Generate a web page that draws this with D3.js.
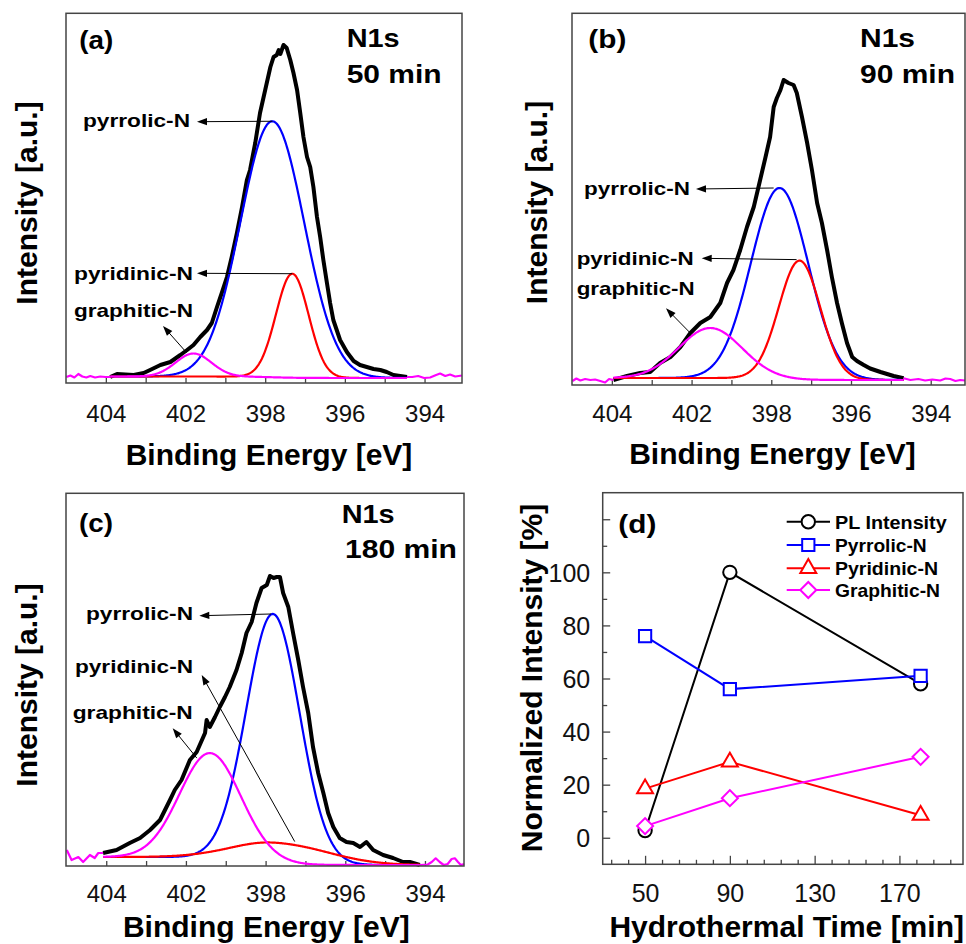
<!DOCTYPE html>
<html><head><meta charset="utf-8">
<script src="https://cdn.jsdelivr.net/npm/d3@7"></script>
<style>
html,body{margin:0;padding:0;background:#fff;}
svg{display:block;}
</style></head><body>
<svg id="chart" width="966" height="944"></svg>
<script>
// ================= DATA =================
// XPS axis: tick positions and the labels printed on them (as in the original figure)
const xTickValues = [402, 400, 398, 396, 394];
const xTickLabels = ["404", "402", "398", "396", "394"];
const xMinorTicks = [402, 401, 400, 399, 398, 397, 396, 395, 394];

const componentNames = ["pyrrolic-N", "pyridinic-N", "graphitic-N"];
const panelTags = ["(a)", "(b)", "(c)", "(d)"];
const coreLevel = "N1s";
const timeLabels = ["50 min", "90 min", "180 min"];
const xpsXTitle = "Binding Energy [eV]";
const xpsYTitle = "Intensity [a.u.]";

// ---- panel (a) 50 min : measured spectrum [eV, counts] ----
const spectrumA = [[402.99,1],[402.89,2.5],[402.79,0.5],[402.69,4],[402.59,1.5],[402.49,0.5],[402.39,2],[402.27,0.5],[402.14,1.5],[402.01,1],
 [401.89,1],[401.72,4],[401.30,3],[401.05,5],[400.89,8],[400.63,13],[400.38,16],[400.13,23],[399.96,28],[399.80,33],[399.63,41],[399.46,48],[399.34,55],[399.21,71],[399.09,85],[398.96,101],[398.84,121],[398.71,145],[398.58,171],[398.46,198],[398.38,208],[398.25,235],[398.13,265],[398.00,288],[397.87,311],[397.79,321],[397.71,323],[397.66,328],[397.62,324],[397.54,333],[397.46,330],[397.37,318],[397.29,305],[397.20,288],[397.12,265],[397.04,241],[396.95,221],[396.87,211],[396.79,191],[396.70,161],[396.62,141],[396.54,118],[396.45,95],[396.37,75],[396.29,58],[396.12,38],[395.95,26],[395.78,17],[395.62,13],[395.45,11],[395.28,9],[395.11,8],[394.95,6],[394.78,3],[394.44,1],
 [394.31,1],[394.16,2],[394.01,0],[393.86,0.5],[393.71,3],[393.61,4.5],[393.48,2],[393.36,3.5],[393.23,1.5],[393.06,2.5]];
const fitRangeA = [394.44, 401.89];
const peakCentersA = [397.82, 397.32, 399.80];
const peakHeightsA = [256, 104, 23];
const peakSigmasA = [0.80, 0.41, 0.45];
const bgStepA = 1.5;

// ---- panel (b) 90 min ----
const spectrumB = [[402.99,-1],[402.89,1.5],[402.79,-0.5],[402.67,1],[402.54,0],[402.42,0.5],[402.29,-1],[402.17,-2.5],[402.07,1],
 [401.96,0],[401.62,4],[401.29,7],[401.04,8],[400.79,17],[400.53,23],[400.28,33],[400.03,47],[399.78,57],[399.53,63],[399.28,77],[399.11,97],[398.95,110],[398.78,130],[398.61,153],[398.44,173],[398.28,200],[398.15,222],[398.03,243],[397.94,273],[397.86,282],[397.77,290],[397.69,300],[397.57,297],[397.44,295],[397.36,287],[397.23,263],[397.10,237],[396.98,210],[396.85,177],[396.73,157],[396.60,130],[396.48,103],[396.35,77],[396.23,57],[396.10,37],[395.97,23],[395.85,19],[395.68,15],[395.52,11.5],[395.26,8],[394.93,4],[394.68,1.7],
 [394.51,0],[394.31,1],[394.14,-0.5],[393.96,0.5],[393.76,-0.5],[393.63,1.5],[393.51,1],[393.38,-1],[393.26,0],[393.14,-0.5]];
const fitRangeB = [394.68, 401.96];
const peakCentersB = [397.79, 397.29, 399.53];
const peakHeightsB = [191, 119, 50];
const peakSigmasB = [0.72, 0.52, 0.79];
const bgStepB = 2;

// ---- panel (c) 180 min ----
const spectrumC = [[402.99,15],[402.87,5],[402.70,8],[402.58,3],[402.41,10],[402.29,7],[402.20,12],
 [402.08,12],[401.74,15],[401.41,22],[401.15,27],[400.90,35],[400.65,45],[400.40,65],[400.28,75],[400.11,85],[399.90,105],[399.73,113],[399.52,132],[399.48,145],[399.40,138],[399.27,148],[399.15,158],[399.02,168],[398.90,178],[398.73,195],[398.60,212],[398.48,232],[398.35,243],[398.23,262],[398.10,277],[397.97,280],[397.89,289],[397.80,287],[397.72,288],[397.64,288],[397.56,272],[397.43,258],[397.31,232],[397.18,205],[397.06,178],[396.93,152],[396.81,118],[396.68,92],[396.55,72],[396.43,52],[396.30,38],[396.14,27],[395.97,23],[395.80,22],[395.63,18],[395.47,23],[395.30,15],[395.05,10],[394.80,7],[394.55,3],[394.38,3],[394.13,0],
 [393.93,0.5],[393.83,3],[393.73,6.7],[393.63,3],[393.53,0],[393.43,1],[393.33,6],[393.25,6.7],[393.17,3],[393.10,0],[393.02,1]];
const fitRangeC = [394.13, 402.08];
const peakCentersC = [397.81, 397.52, 399.40];
const peakHeightsC = [247, 19, 104];
const peakSigmasC = [0.67, 1.17, 0.76];
const bgStepC = 8;

// ---- panel (d) ----
const times = [50, 90, 180];
const plIntensity = [2.7, 100, 58];
const pyrrolicN = [76, 56, 61];
const pyridinicN = [18.5, 28.6, 8.5];
const graphiticN = [4.4, 14.9, 30.5];
const seriesNames = ["PL Intensity", "Pyrrolic-N", "Pyridinic-N", "Graphitic-N"];
const dYTickLabels = [0, 20, 40, 60, 80, 100];
const dXTickLabels = [50, 90, 130, 170];
const dXTitle = "Hydrothermal Time [min]";
const dYTitle = "Normalized Intensity [%]";

// ================= DRAWING =================
const FONT = '"Liberation Sans", Arial, Helvetica, sans-serif';
const COLORS = {black:"#000000", blue:"#0000ff", red:"#ff0000", magenta:"#ff00ff"};
const compColors = [COLORS.blue, COLORS.red, COLORS.magenta];
const FRAME = "#444";
const svg = d3.select("#chart");

function gauss(u, c, h, s) { return h * Math.exp(-0.5 * ((u - c) / s) ** 2); }

function boldText(g, str, x, y, size, width) {
  const t = g.append("text").attr("x", x).attr("y", y)
    .attr("font-family", FONT).attr("font-weight", "bold").attr("font-size", size)
    .attr("fill", "#000").text(str);
  if (width) t.attr("textLength", width).attr("lengthAdjust", "spacingAndGlyphs");
  return t;
}

function arrow(g, tail, tip) {
  const dx = tip[0] - tail[0], dy = tip[1] - tail[1];
  const len = Math.hypot(dx, dy), ux = dx / len, uy = dy / len;
  const L = 10, W = 3.6;
  g.append("line").attr("x1", tail[0]).attr("y1", tail[1])
    .attr("x2", tip[0] - ux * (L - 1)).attr("y2", tip[1] - uy * (L - 1))
    .attr("stroke", "#000").attr("stroke-width", 1);
  const bx = tip[0] - ux * L, by = tip[1] - uy * L;
  g.append("path").attr("d", `M${tip[0]},${tip[1]}L${bx - uy * W},${by + ux * W}L${bx + uy * W},${by - ux * W}Z`)
    .attr("fill", "#000");
}

function spectrumPanel(p) {
  const g = svg.append("g");
  const x = d3.scaleLinear().domain(p.xDomain).range([p.left, p.right]);
  const y = d3.scaleLinear().domain(p.yDomain).range([p.bottom, p.top]);

  // ticks (inside, all same length)
  const ga = g.append("g").attr("transform", `translate(0,${p.bottom})`)
    .call(d3.axisBottom(x).tickValues(xMinorTicks).tickSize(-5).tickFormat(""));
  ga.select(".domain").remove();
  ga.selectAll("line").attr("stroke", FRAME).attr("stroke-width", 1.3);
  // tick labels
  const gl = g.append("g").attr("transform", `translate(0,${p.bottom})`)
    .call(d3.axisBottom(x).tickValues(xTickValues).tickFormat((d, i) => xTickLabels[i]).tickSize(0));
  gl.select(".domain").remove();
  gl.attr("font-family", FONT).attr("font-size", 24);
  gl.selectAll("text").attr("y", p.tickLabelY).attr("dy", null).attr("fill", "#111");

  // curves
  const line = d3.line().x(d => x(d[0])).y(d => y(d[1])).curve(d3.curveLinear);
  const [lo, hi] = p.fitRange;
  const inside = p.spectrum.filter(d => d[0] >= lo && d[0] <= hi);
  const leftEdge = p.spectrum.filter(d => d[0] >= hi);
  const rightEdge = p.spectrum.filter(d => d[0] <= lo);
  const bg = u => p.bgStep / (1 + Math.exp(-(u - p.centers[0]) / 0.35));
  const us = d3.range(hi, lo, -0.02).concat([lo]);

  g.append("path").attr("d", line(inside)).attr("fill", "none")
    .attr("stroke", COLORS.black).attr("stroke-width", 4).attr("stroke-linejoin", "round");

  const peakPts = [];
  [0, 1, 2].forEach(i => {
    const pts = us.map(u => [u, bg(u) + gauss(u, p.centers[i], p.heights[i], p.sigmas[i])]);
    g.append("path").attr("d", line(pts)).attr("fill", "none")
      .attr("stroke", compColors[i]).attr("stroke-width", 2.2);
    peakPts.push([x(p.centers[i]), y(bg(p.centers[i]) + p.heights[i])]);
  });
  [leftEdge, rightEdge].forEach(e => {
    g.append("path").attr("d", line(e)).attr("fill", "none")
      .attr("stroke", COLORS.magenta).attr("stroke-width", 2.2).attr("stroke-linejoin", "round");
  });

  // frame
  g.append("rect").attr("x", p.left).attr("y", p.top)
    .attr("width", p.right - p.left).attr("height", p.bottom - p.top)
    .attr("fill", "none").attr("stroke", FRAME).attr("stroke-width", 1.5);

  // annotations
  p.annot.forEach((a, i) => {
    boldText(g, componentNames[i], a.tx, a.by, 19, a.w);
    arrow(g, [peakPts[i][0] + a.off[0], peakPts[i][1] + a.off[1]], a.tip);
  });

  // panel texts
  boldText(g, p.tag, p.tagPos[0], p.tagPos[1], 25, p.tagPos[2]);
  boldText(g, coreLevel, p.n1sPos[0], p.n1sPos[1], 25, p.n1sPos[2]);
  boldText(g, p.time, p.timePos[0], p.timePos[1], 25, p.timePos[2]);

  // axis titles
  g.append("text").attr("x", p.xTitlePos[0]).attr("y", p.xTitlePos[1])
    .attr("text-anchor", "middle").attr("font-family", FONT).attr("font-weight", "bold")
    .attr("font-size", 30).text(xpsXTitle);
  g.append("text").attr("transform", `translate(${p.yTitlePos[0]},${p.yTitlePos[1]}) rotate(-90)`)
    .attr("text-anchor", "middle").attr("font-family", FONT).attr("font-weight", "bold")
    .attr("font-size", 30).text(xpsYTitle);
}

spectrumPanel({
  left: 66, right: 462, top: 13.3, bottom: 383,
  xDomain: [403, 393.06], yDomain: [-5, 364.7], tickLabelY: 38.5,
  spectrum: spectrumA, fitRange: fitRangeA, centers: peakCentersA, heights: peakHeightsA,
  sigmas: peakSigmasA, bgStep: bgStepA,
  annot: [
    {tx: 83, by: 127, w: 107, tip: [197, 121.7], off: [0, 0]},
    {tx: 74, by: 280, w: 119, tip: [197, 273.3], off: [0, 0]},
    {tx: 74, by: 317, w: 119, tip: [163, 326], off: [-7, -1]}
  ],
  tag: panelTags[0], tagPos: [79.3, 49, 34],
  n1sPos: [346.7, 46.7, 53], time: timeLabels[0], timePos: [346.7, 83, 95],
  xTitlePos: [269, 465], yTitlePos: [37, 203]
});

spectrumPanel({
  left: 572, right: 965, top: 13.3, bottom: 385,
  xDomain: [403, 393.14], yDomain: [-5, 366.7], tickLabelY: 36.5,
  spectrum: spectrumB, fitRange: fitRangeB, centers: peakCentersB, heights: peakHeightsB,
  sigmas: peakSigmasB, bgStep: bgStepB,
  annot: [
    {tx: 584, by: 195, w: 106, tip: [696, 189], off: [-6, 0]},
    {tx: 576.7, by: 265, w: 117, tip: [701.7, 258.3], off: [-3, -1]},
    {tx: 576.7, by: 295, w: 118, tip: [666, 308.3], off: [-21, 4]}
  ],
  tag: panelTags[1], tagPos: [588.3, 48, 38],
  n1sPos: [860, 46.7, 55], time: timeLabels[1], timePos: [860, 83, 95],
  xTitlePos: [772.5, 464], yTitlePos: [547, 202.5]
});

spectrumPanel({
  left: 66, right: 464, top: 493.3, bottom: 866,
  xDomain: [403.01, 393.02], yDomain: [-1, 371.7], tickLabelY: 35.5,
  spectrum: spectrumC, fitRange: fitRangeC, centers: peakCentersC, heights: peakHeightsC,
  sigmas: peakSigmasC, bgStep: bgStepC,
  annot: [
    {tx: 86, by: 620, w: 107, tip: [199.3, 615.7], off: [-2, 0]},
    {tx: 75, by: 673, w: 118, tip: [201.7, 675], off: [10, -2]},
    {tx: 72.7, by: 719, w: 120, tip: [172.7, 728.3], off: [-13, 5]}
  ],
  tag: panelTags[2], tagPos: [79, 532, 34],
  n1sPos: [341.7, 523.3, 53], time: timeLabels[2], timePos: [345, 558.3, 112],
  xTitlePos: [266.3, 936.5], yTitlePos: [37, 685]
});

// ---------- panel (d) ----------
(function () {
  const L = 602.7, R = 963, T = 492.7, B = 864.3;
  const g = svg.append("g");
  const x = d3.scaleLinear().domain([30, 200]).range([L, R]);
  const y = d3.scaleLinear().domain([-10, 130]).range([B, T]);

  // y ticks
  const yMajor = d3.range(0, 121, 20), yMinor = d3.range(10, 120, 20);
  let a = g.append("g").attr("transform", `translate(${L},0)`)
    .call(d3.axisLeft(y).tickValues(yMinor).tickSize(-4.5).tickFormat(""));
  a.select(".domain").remove(); a.selectAll("line").attr("stroke", FRAME).attr("stroke-width", 1.3);
  a = g.append("g").attr("transform", `translate(${L},0)`)
    .call(d3.axisLeft(y).tickValues(yMajor).tickSize(-7.5)
      .tickFormat(d => dYTickLabels.includes(d) ? String(d) : "").tickPadding(12.5));
  a.select(".domain").remove(); a.selectAll("line").attr("stroke", FRAME).attr("stroke-width", 1.3);
  a.attr("font-family", FONT).attr("font-size", 25);
  a.selectAll("text").attr("fill", "#111").attr("dy", "0.35em");

  // x ticks
  const xAll = d3.range(34, 200, 8);
  const xMinor = xAll.filter(v => !dXTickLabels.includes(v));
  a = g.append("g").attr("transform", `translate(0,${B})`)
    .call(d3.axisBottom(x).tickValues(xMinor).tickSize(-4.5).tickFormat(""));
  a.select(".domain").remove(); a.selectAll("line").attr("stroke", FRAME).attr("stroke-width", 1.3);
  a = g.append("g").attr("transform", `translate(0,${B})`)
    .call(d3.axisBottom(x).tickValues(dXTickLabels).tickSize(-8.5));
  a.select(".domain").remove(); a.selectAll("line").attr("stroke", FRAME).attr("stroke-width", 1.3);
  a.attr("font-family", FONT).attr("font-size", 25);
  a.selectAll("text").attr("fill", "#111").attr("y", 37.4).attr("dy", null);

  // frame
  g.append("rect").attr("x", L).attr("y", T).attr("width", R - L).attr("height", B - T)
    .attr("fill", "none").attr("stroke", FRAME).attr("stroke-width", 1.5);

  const series = [
    {vals: plIntensity, color: COLORS.black, sym: d3.symbolCircle, size: 140, rot: 0},
    {vals: pyrrolicN, color: COLORS.blue, sym: d3.symbolSquare, size: 150, rot: 0},
    {vals: pyridinicN, color: COLORS.red, sym: d3.symbolTriangle, size: 110, rot: 0},
    {vals: graphiticN, color: COLORS.magenta, sym: d3.symbolSquare, size: 128, rot: 45}
  ];
  const line = d3.line().x((d, i) => x(times[i])).y(d => y(d));
  series.forEach(s => {
    g.append("path").attr("d", line(s.vals)).attr("fill", "none")
      .attr("stroke", s.color).attr("stroke-width", 2);
    s.vals.forEach((v, i) => {
      g.append("path").attr("d", d3.symbol().type(s.sym).size(s.size)())
        .attr("transform", `translate(${x(times[i])},${y(v)}) rotate(${s.rot})`)
        .attr("fill", "#fff").attr("stroke", s.color).attr("stroke-width", 2);
    });
  });

  // legend
  const rowsY = [521.7, 545, 568.3, 590];
  const legW = [111.7, 91.7, 103, 105];
  series.forEach((s, i) => {
    const yy = rowsY[i];
    g.append("line").attr("x1", 786.7).attr("x2", 830).attr("y1", yy).attr("y2", yy)
      .attr("stroke", s.color).attr("stroke-width", 2);
    g.append("path").attr("d", d3.symbol().type(s.sym).size(s.size)())
      .attr("transform", `translate(808.3,${yy}) rotate(${s.rot})`)
      .attr("fill", "#fff").attr("stroke", s.color).attr("stroke-width", 2);
    boldText(g, seriesNames[i], 835, yy + 6.8, 19, legW[i]);
  });

  boldText(g, panelTags[3], 618.3, 533, 25, 38);

  g.append("text").attr("x", 786.7).attr("y", 936.5)
    .attr("text-anchor", "middle").attr("font-family", FONT).attr("font-weight", "bold")
    .attr("font-size", 30).text(dXTitle);
  g.append("text").attr("transform", `translate(542,678) rotate(-90)`)
    .attr("text-anchor", "middle").attr("font-family", FONT).attr("font-weight", "bold")
    .attr("font-size", 30).text(dYTitle);
})();
</script>
</body></html>
